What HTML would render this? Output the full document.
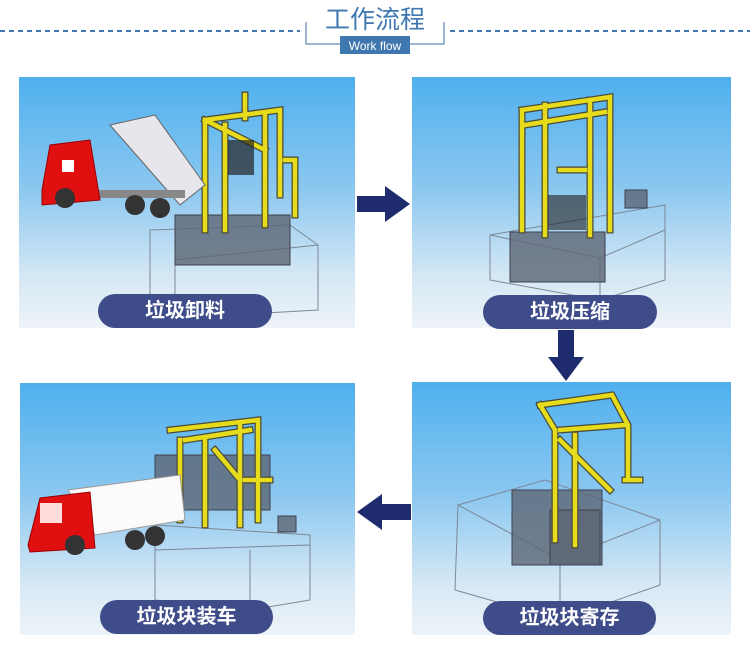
<!DOCTYPE html>
<html><head><meta charset="utf-8"><style>
*{margin:0;padding:0;box-sizing:border-box}
body{width:750px;height:656px;background:#fff;position:relative;overflow:hidden;font-family:"Liberation Sans","Noto Sans CJK SC",sans-serif}
.p{position:absolute;background:linear-gradient(180deg,#4fb0ee 0%,#8cc8f0 45%,#d6e8f5 80%,#eef3f8 100%)}
.pill{position:absolute;height:34px;border-radius:17px;background:#3e4d8a;color:#fff;font-size:20px;font-weight:bold;text-align:center;line-height:34px;letter-spacing:0px;font-family:"Liberation Sans","Noto Sans CJK SC",sans-serif}
svg{position:absolute;left:0;top:0}
</style></head><body>
<svg width="750" height="656">
 <line x1="0" y1="31" x2="300" y2="31" stroke="#3f77b0" stroke-width="2" stroke-dasharray="5,4"/>
 <line x1="450" y1="31" x2="750" y2="31" stroke="#3f77b0" stroke-width="2" stroke-dasharray="5,4"/>
 <path d="M306 22 V44 H340" stroke="#7f9ec0" fill="none" stroke-width="1.5"/>
 <path d="M444 22 V44 H410" stroke="#7f9ec0" fill="none" stroke-width="1.5"/>
 <rect x="340" y="36" width="70" height="18" fill="#3f77b0"/>
 <text x="375" y="50" fill="#fff" font-size="12" text-anchor="middle" font-family="Liberation Sans">Work flow</text>
 <text x="375" y="28" fill="#3f77b0" font-size="25" text-anchor="middle" font-family="Liberation Sans,Noto Sans CJK SC,sans-serif">工作流程</text>
</svg>

<div class="p" style="left:19px;top:77px;width:336px;height:251px"></div>
<div class="p" style="left:412px;top:77px;width:319px;height:251px"></div>
<div class="p" style="left:20px;top:383px;width:335px;height:252px"></div>
<div class="p" style="left:412px;top:382px;width:319px;height:253px"></div>

<svg width="750" height="656">
 <g fill="none" stroke="#7d8796" stroke-width="1">
  <path d="M150 230 L290 225 L318 245 L318 310 L175 318 L150 300 Z M150 230 L150 300 M175 260 L318 245 M175 260 L175 318"/>
  <path d="M490 235 L665 205 L665 280 L600 300 L490 280 Z M490 235 L600 258 L665 230 M600 258 L600 300"/>
  <path d="M155 525 L310 535 L310 600 L250 610 L155 600 Z M155 550 L310 545 M250 550 L250 610"/>
  <path d="M458 505 L545 480 L660 520 L660 585 L560 620 L455 590 Z M458 505 L560 560 L660 520 M560 560 L560 620"/>
 </g>
 <g fill="#5d6574" fill-opacity=".8" stroke="#3c4250">
  <rect x="175" y="215" width="115" height="50"/>
  <rect x="510" y="232" width="95" height="50"/>
  <rect x="625" y="190" width="22" height="18"/>
  <rect x="155" y="455" width="115" height="55"/>
  <rect x="278" y="516" width="18" height="16"/>
  <rect x="512" y="490" width="90" height="75"/>
  <rect x="550" y="510" width="50" height="55"/>
 </g>
 <g id="fr" stroke="#4a4a3a" stroke-width="7" fill="none" stroke-linecap="square">
  <path d="M205 120 L280 110 L280 195 M205 120 L205 230 M225 125 L225 230 M265 115 L265 225 M205 120 L265 150 M245 95 L245 118 M285 160 L295 160 L295 215"/>
  <path d="M522 110 L610 97 L610 230 M522 110 L522 230 M545 105 L545 235 M590 100 L590 235 M525 125 L605 112 M560 170 L585 170"/>
  <path d="M170 430 L258 420 L258 520 M180 440 L180 520 M205 440 L205 525 M240 425 L240 525 M185 440 L250 430 M215 450 L240 480 M245 480 L270 480"/>
  <path d="M540 405 L612 395 L628 425 L628 480 M540 405 L555 430 L555 540 M575 435 L575 545 M560 430 L625 425 M560 440 L610 490 M625 480 L640 480"/>
 </g>
 <g stroke="#e6dc1c" stroke-width="4.5" fill="none" stroke-linecap="square">
  <path d="M205 120 L280 110 L280 195 M205 120 L205 230 M225 125 L225 230 M265 115 L265 225 M205 120 L265 150 M245 95 L245 118 M285 160 L295 160 L295 215"/>
  <path d="M522 110 L610 97 L610 230 M522 110 L522 230 M545 105 L545 235 M590 100 L590 235 M525 125 L605 112 M560 170 L585 170"/>
  <path d="M170 430 L258 420 L258 520 M180 440 L180 520 M205 440 L205 525 M240 425 L240 525 M185 440 L250 430 M215 450 L240 480 M245 480 L270 480"/>
  <path d="M540 405 L612 395 L628 425 L628 480 M540 405 L555 430 L555 540 M575 435 L575 545 M560 430 L625 425 M560 440 L610 490 M625 480 L640 480"/>
 </g>
 <g fill="#222"><rect x="228" y="140" width="26" height="35" opacity=".7"/><rect x="548" y="195" width="38" height="35" opacity=".6"/></g>
 <polygon points="110,125 155,115 205,185 180,205" fill="#e6e6ec" stroke="#666"/>
 <rect x="75" y="190" width="110" height="8" fill="#888"/>
 <path d="M42 190 L50 145 L90 140 L100 200 L42 205 Z" fill="#e01010" stroke="#900"/>
 <rect x="62" y="160" width="12" height="12" fill="#fff"/>
 <circle cx="65" cy="198" r="10" fill="#333"/><circle cx="135" cy="205" r="10" fill="#333"/><circle cx="160" cy="208" r="10" fill="#333"/>
 <polygon points="68,490 180,475 185,520 95,535" fill="#fbfbfb" stroke="#999"/>
 <path d="M28 545 L40 498 L90 492 L95 548 L30 552 Z" fill="#e01010" stroke="#900"/>
 <rect x="40" y="503" width="22" height="20" fill="#fdd"/>
 <circle cx="75" cy="545" r="10" fill="#333"/><circle cx="135" cy="540" r="10" fill="#333"/><circle cx="155" cy="536" r="10" fill="#333"/>
 <polygon points="357,196 385,196 385,186 410,204 385,222 385,212 357,212" fill="#1e2c6e"/>
 <polygon points="558,330 574,330 574,357 584,357 566,381 548,357 558,357" fill="#1e2c6e"/>
 <polygon points="411,504 382,504 382,494 357,512 382,530 382,520 411,520" fill="#1e2c6e"/>
</svg>

<div class="pill" style="left:98px;top:294px;width:174px">垃圾卸料</div>
<div class="pill" style="left:483px;top:295px;width:174px">垃圾压缩</div>
<div class="pill" style="left:100px;top:600px;width:173px">垃圾块装车</div>
<div class="pill" style="left:483px;top:601px;width:173px">垃圾块寄存</div>
</body></html>
